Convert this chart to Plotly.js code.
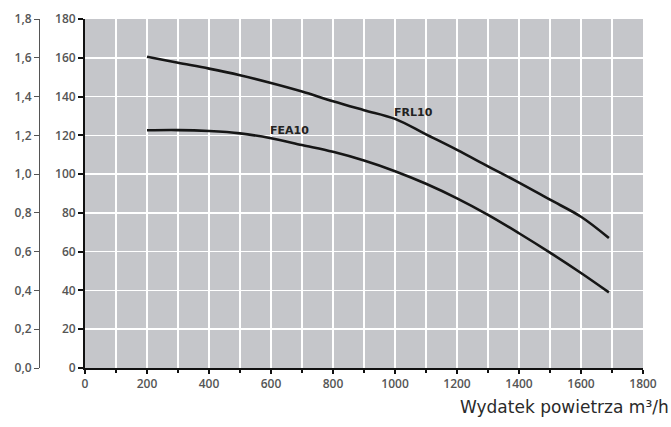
<!DOCTYPE html>
<html>
<head>
<meta charset="utf-8">
<script src="https://cdn.plot.ly/plotly-3.0.1.min.js"></script>
<style>html,body{margin:0;padding:0;background:#fff;}#chart{width:671px;height:427px;}</style>
</head>
<body>
<div id="chart"></div>
<script>
// Air flow (m3/h)
const airflow = [200, 300, 400, 500, 600, 700, 800, 900, 1000, 1100, 1200, 1300, 1400, 1500, 1600, 1690];
// Pressure curves (Pa)
const frl10 = [160.5, 157.4, 154.4, 151.0, 147.0, 142.6, 137.6, 133.0, 128.5, 120.5, 112.5, 104.0, 95.6, 86.8, 78.0, 67.0];
const fea10 = [122.6, 122.7, 122.2, 121.0, 118.5, 115.0, 111.5, 107.0, 101.5, 95.0, 87.5, 79.0, 69.5, 59.5, 49.0, 39.0];
const seriesNames = ["FRL10", "FEA10"];
// Tick labels
const xTickVals = [0, 200, 400, 600, 800, 1000, 1200, 1400, 1600, 1800];
const yTickVals = [0, 20, 40, 60, 80, 100, 120, 140, 160, 180];
const y2TickVals = [0, 0.2, 0.4, 0.6, 0.8, 1.0, 1.2, 1.4, 1.6, 1.8];
const y2TickText = ["0,0", "0,2", "0,4", "0,6", "0,8", "1,0", "1,2", "1,4", "1,6", "1,8"];
const xTitle = "Wydatek powietrza m³/h";

const lineStyle = {color: "#161616", width: 2.6, shape: "spline", smoothing: 1.0};
const traces = [
  {x: airflow, y: frl10, name: seriesNames[0], mode: "lines", line: lineStyle, hoverinfo: "skip"},
  {x: airflow, y: fea10, name: seriesNames[1], mode: "lines", line: lineStyle, hoverinfo: "skip"},
  {x: [], y: [], yaxis: "y2", mode: "lines", showlegend: false, hoverinfo: "skip"}
];

const tickFont = {family: "Open Sans, Liberation Sans, sans-serif", size: 12, color: "#555", weight: 600};
const layout = {
  width: 671, height: 427,
  margin: {l: 39, r: 28, t: 19, b: 59},
  paper_bgcolor: "#ffffff",
  plot_bgcolor: "#c5c6ca",
  showlegend: false,
  xaxis: {
    domain: [0.0762, 1],
    range: [0, 1800],
    tickvals: xTickVals,
    ticks: "outside", ticklen: 4, tickwidth: 2, tickcolor: "#111",
    showline: true, linecolor: "#111", linewidth: 2,
    showgrid: true, gridcolor: "#ffffff", gridwidth: 1.5,
    zeroline: false,
    tickfont: tickFont,
    minor: {dtick: 100, ticks: "outside", ticklen: 3, tickwidth: 2, tickcolor: "#111", showgrid: true, gridcolor: "#ffffff", gridwidth: 1.5}
  },
  yaxis: {
    range: [0, 180],
    tickvals: yTickVals,
    ticks: "outside", ticklen: 5, tickwidth: 2, tickcolor: "#111",
    showline: true, linecolor: "#111", linewidth: 2,
    showgrid: true, gridcolor: "#ffffff", gridwidth: 1.5,
    zeroline: false,
    tickfont: tickFont
  },
  yaxis2: {
    overlaying: "y", anchor: "free", position: 0, side: "left",
    range: [0, 1.8],
    tickvals: y2TickVals, ticktext: y2TickText,
    ticks: "outside", ticklen: 5, tickwidth: 1, tickcolor: "#555",
    showline: true, linecolor: "#555", linewidth: 1,
    showgrid: false, zeroline: false,
    tickfont: tickFont
  },
  annotations: [
    {x: 1061, y: 131.6, xref: "x", yref: "y", text: seriesNames[0], showarrow: false,
     font: {family: "DejaVu Sans, sans-serif", size: 11, color: "#222", weight: 700}},
    {x: 661, y: 122.3, xref: "x", yref: "y", text: seriesNames[1], showarrow: false,
     font: {family: "DejaVu Sans, sans-serif", size: 11, color: "#222", weight: 700}},
    {x: 1, xref: "paper", xshift: 28, xanchor: "right", y: 0, yref: "paper", yshift: -39, yanchor: "middle",
     text: xTitle, showarrow: false,
     font: {family: "DejaVu Sans, sans-serif", size: 17, color: "#2a2a2a"}}
  ]
};

Plotly.newPlot("chart", traces, layout, {staticPlot: true, displayModeBar: false});
</script>
</body>
</html>
